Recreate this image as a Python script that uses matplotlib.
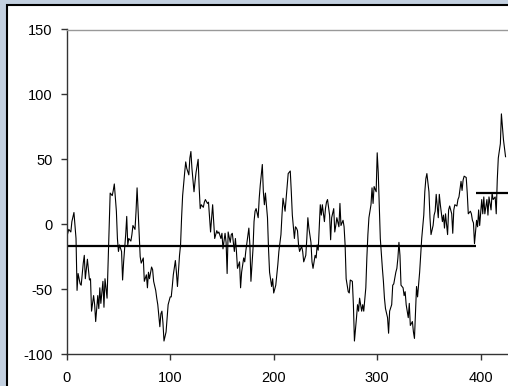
import matplotlib.pyplot as plt
from matplotlib.patches import Rectangle

# Series values (x, y)
x = [0, 2, 4, 5, 7, 9, 10, 11, 13, 14, 16, 17, 18, 20, 21, 22, 23, 24, 26, 27,
     28, 30, 31, 32, 33, 35, 36, 37, 39, 40, 41, 42, 44, 45, 46, 48, 49, 50, 51, 53,
     54, 55, 57, 58, 59, 60, 62, 63, 64, 66, 67, 68, 69,
     71, 72, 74, 75, 77, 78, 79, 80, 82, 83, 84, 86, 87, 88, 90, 91, 92, 93, 94, 96,
     97, 98, 100, 101, 102, 103, 105, 106, 107, 109, 110, 111, 112, 114, 115, 116, 118,
     119, 120, 121, 123, 124, 125, 127, 128, 129, 130, 132, 133, 134, 136, 137, 138,
     139, 141, 142, 143, 145, 146, 147,
     149, 150, 151, 153, 154, 155, 156, 158, 159, 160, 162, 163, 164, 165, 167, 168,
     169, 171, 172, 173, 174, 176, 177, 178, 180, 181, 182, 183, 185, 186, 187, 189,
     190, 191, 192, 194, 195, 196, 198, 199, 200, 202, 203, 204, 205, 207, 208, 209,
     211, 212, 213, 214, 216, 217, 218, 220, 221,
     222, 223, 224, 225, 227, 228, 229, 231, 232, 233, 234, 236, 237, 238, 240, 241,
     242, 243, 245, 246, 247, 249, 250, 251, 252, 254, 255, 256, 258, 259, 260, 261,
     263, 264, 265, 267, 268, 269, 270, 272, 273, 274, 276, 277, 278, 280, 281, 282,
     283, 285, 286, 287, 289, 290, 291, 292, 294, 295,
     296, 297, 299, 300, 301, 302, 303, 305, 306, 307, 308, 310, 311, 312, 314, 315,
     316, 318, 319, 320, 321, 322, 323, 325, 326, 327, 328, 330, 331, 332, 334, 335,
     336, 337, 338, 339, 341, 342, 343, 345, 346, 347, 348, 350, 351, 352, 354, 355,
     356, 357, 359, 360, 361, 363, 364, 365, 366, 368,
     369, 370, 372, 373, 374, 375, 377, 378, 379, 381, 382, 383, 384, 386, 387, 388,
     390, 391, 392, 393, 394, 396, 397, 398, 399, 401, 402, 403, 404, 406, 407, 408,
     410, 411, 412, 414, 415, 416, 417, 419, 420, 421, 422, 424]
y = [-10, -4, -6, 2, 9, -11, -51, -38, -46, -47, -30, -24, -42, -27, -35, -43, -42, -67, -55, -62,
     -75, -55, -65, -49, -61, -44, -64, -42, -57, -29, 2, 24, 22, 26, 31, 10, -11, -21, -16, -21,
     -43, -29, -8, 6, -16, -11, -13, -8, -1, -4, 10, 28, 10,
     -25, -30, -26, -44, -39, -49, -37, -42, -33, -35, -44, -51, -57, -62, -79, -69, -67, -76, -90, -83,
     -72, -62, -56, -56, -48, -39, -28, -37, -48, -24, -16, 5, 22, 40, 48, 43, 38,
     51, 56, 43, 25, 33, 40, 50, 28, 12, 15, 13, 17, 19, 16, 17, 5,
     -6, 15, 2, -11, -5, -7, -6,
     -11, -7, -19, -7, -14, -38, -6, -14, -8, -7, -21, -11, -21, -34, -29, -49,
     -37, -26, -29, -21, -15, -3, -16, -44, -19, 2, 10, 12, 5, 20, 30, 46,
     25, 15, 24, 5, -19, -37, -48, -42, -53, -47, -39, -31, -21, -8, 7, 20,
     10, 20, 30, 39, 41, 25, 7, -11, -2,
     -3, -5, -16, -21, -17, -21, -29, -24, -11, 5, -3, -14, -29, -34, -24, -26,
     -16, -20, 15, 7, 15, 2, 12, 17, 19, 7, -12, 5, 12, -6, -1, 5,
     -2, 16, -1, 3, -2, -16, -42, -52, -53, -43, -44, -62, -90, -72, -62, -67,
     -57, -67, -62, -67, -49, -26, -8, 5, 15, 28,
     16, 29, 25, 55, 40, 15, -11, -34, -44, -57, -65, -72, -84, -67, -62, -47,
     -46, -37, -34, -26, -14, -24, -47, -49, -55, -52, -62, -72, -61, -78, -75, -83,
     -88, -67, -48, -56, -37, -24, -11, 7, 25, 35, 39, 25, 5, -8, -1, 7,
     10, 23, 5, 23, 15, 2, 7, -3, 8, -8,
     11, 14, 8, -7, 11, 15, 14, 19, 21, 33, 26, 34, 37, 36, 24, 8,
     10, 8, 3, 1, -15, 3, -2, 11, -1, 19, 8, 21, 8, 19, 7, 21,
     11, 24, 19, 21, 8, 34, 51, 62, 85, 75, 65, 52]

# Segment means
seg_start = [0, 395]
seg_end = [395, 440]
seg_mean = [-17, 24]

W, H = 508, 386
plt.rcParams['font.family'] = ['Liberation Sans', 'DejaVu Sans']
plt.rcParams['axes.unicode_minus'] = False
fig = plt.figure(figsize=(W / 100, H / 100), dpi=100)
fig.patch.set_facecolor('#c3d0e0')

# White chart area with black border
fig.patches.append(Rectangle((7 / W, -0.1), 1.2, 1 - 5 / H + 0.1,
                             transform=fig.transFigure, facecolor='white',
                             edgecolor='black', linewidth=1.5, zorder=-10))

ax_w = 450 * 1.035 / W
ax = fig.add_axes([66.7 / W, 32 / H, ax_w, 324.5 / H])
ax.set_facecolor('white')

ax.plot(x, y, color='black', linewidth=0.8)
for s, e, m in zip(seg_start, seg_end, seg_mean):
    ax.plot([s, e], [m, m], color='black', linewidth=1.6, solid_capstyle='butt')

ax.set_xlim(0, 450)
ax.set_ylim(-100, 150)
ax.set_xticks([0, 100, 200, 300, 400])
ax.set_yticks([-100, -50, 0, 50, 100, 150])

ax.spines['top'].set_color('#999999')
ax.spines['right'].set_color('#999999')
ax.spines['left'].set_color('#333333')
ax.spines['bottom'].set_color('#333333')
for s in ax.spines.values():
    s.set_linewidth(1.0)

ax.tick_params(axis='both', direction='out', length=4, width=1, color='#333333',
               labelsize=10.5, labelcolor='black')
ax.tick_params(axis='y', pad=6)
ax.tick_params(axis='x', pad=8)

fig.savefig('out.png', dpi=100, facecolor=fig.get_facecolor())
